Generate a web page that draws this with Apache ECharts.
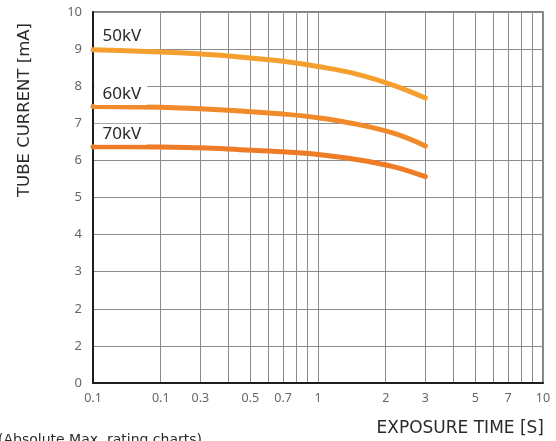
<!DOCTYPE html>
<html>
<head>
<meta charset="utf-8">
<script src="https://cdn.jsdelivr.net/npm/echarts@6/dist/echarts.min.js"></script>
<style>
  html, body { margin: 0; padding: 0; background: #ffffff; }
  #chart { width: 556px; height: 441px; }
</style>
</head>
<body>
<div id="chart"></div>
<script>
// Exposure time samples [s], roughly even steps on the log scale
const exposureTimes = [0.1, 0.15, 0.2, 0.3, 0.45, 0.7, 1, 1.5, 2.2, 3];

// Tube current limits [mA] for each tube voltage
const current50kV = [8.98, 8.95, 8.92, 8.87, 8.79, 8.67, 8.53, 8.32, 8.01, 7.68];
const current60kV = [7.45, 7.44, 7.43, 7.39, 7.33, 7.25, 7.15, 6.97, 6.72, 6.39];
const current70kV = [6.37, 6.37, 6.36, 6.34, 6.29, 6.23, 6.16, 6.02, 5.82, 5.56];

const seriesNames = ['50kV', '60kV', '70kV'];

// Log-axis grid positions and the labels printed under them
const xGridValues = [0.1, 0.2, 0.3, 0.4, 0.5, 0.6, 0.7, 0.8, 0.9, 1, 2, 3, 4, 5, 6, 7, 8, 9, 10];
const xTickValues = [0.1, 0.2, 0.3, 0.5, 0.7, 1, 2, 3, 5, 7, 10];
const xTickLabels = ['0.1', '0.1', '0.3', '0.5', '0.7', '1', '2', '3', '5', '7', '10'];
const yTickLabels = ['0', '2', '2', '3', '4', '5', '6', '7', '8', '9', '10'];

const TICK_FONT = "'Noto Sans', 'DejaVu Sans', sans-serif";
const lineColors = ['#f5a02e', '#f18a2a', '#ee7b25'];
const labelOffsets = [-13.5, -12, -12.5];

function xLabel(v) {
  for (let i = 0; i < xTickValues.length; i++) {
    if (Math.abs(Math.log10(v) - Math.log10(xTickValues[i])) < 0.01) return xTickLabels[i];
  }
  return '';
}

function makeSeries(name, values, idx) {
  return {
    name: name,
    type: 'line',
    smooth: 0.4,
    showSymbol: false,
    silent: true,
    data: exposureTimes.map((t, i) => [t, values[i]]),
    lineStyle: { color: lineColors[idx], width: 5, cap: 'round' },
    itemStyle: { color: lineColors[idx] },
    z: 3,
    markPoint: {
      silent: true,
      symbol: 'circle',
      symbolSize: 1,
      itemStyle: { color: 'rgba(0,0,0,0)' },
      data: [{
        coord: [exposureTimes[0], values[0]],
        label: {
          show: true,
          formatter: name,
          position: 'right',
          distance: 1,
          offset: [0, labelOffsets[idx]],
          color: '#2a2a2a',
          fontFamily: TICK_FONT,
          fontSize: 17,
          backgroundColor: '#ffffff',
          padding: [2, 6, 2, 8]
        }
      }]
    }
  };
}

const chart = echarts.init(document.getElementById('chart'), null, { renderer: 'canvas' });

chart.setOption({
  animation: false,
  backgroundColor: '#ffffff',
  grid: {
    left: 93, right: 13, top: 12, bottom: 58,
    show: true, borderColor: '#555555', borderWidth: 1.5, backgroundColor: 'transparent'
  },
  xAxis: {
    type: 'log',
    logBase: 10,
    min: 0.1,
    max: 10,
    axisLine: { show: true, onZero: false, lineStyle: { color: '#1e1e1e', width: 2 } },
    axisTick: { show: false, customValues: xGridValues },
    splitLine: { show: true, lineStyle: { color: '#8c8c8c', width: 1 } },
    axisLabel: {
      customValues: xTickValues,
      formatter: xLabel,
      color: '#666666',
      fontFamily: TICK_FONT,
      fontSize: 12.5,
      margin: 9,
      hideOverlap: false,
      showMinLabel: true,
      showMaxLabel: true
    }
  },
  yAxis: {
    type: 'value',
    min: 0,
    max: 10,
    interval: 1,
    axisLine: { show: true, lineStyle: { color: '#1e1e1e', width: 2 } },
    axisTick: { show: false },
    splitLine: { show: true, lineStyle: { color: '#8c8c8c', width: 1 } },
    axisLabel: {
      formatter: v => yTickLabels[Math.round(v)],
      color: '#666666',
      fontFamily: TICK_FONT,
      fontSize: 13,
      margin: 11
    }
  },
  graphic: [
    {
      type: 'text',
      x: 25, y: 110,
      rotation: Math.PI / 2,
      style: {
        text: 'TUBE CURRENT [mA]',
        fill: '#2a2a2a',
        font: "16.5px 'DejaVu Sans', sans-serif",
        textAlign: 'center',
        textVerticalAlign: 'middle'
      }
    },
    {
      type: 'text',
      x: 544, y: 429,
      style: {
        text: 'EXPOSURE TIME [S]',
        fill: '#2a2a2a',
        font: "17px 'DejaVu Sans', sans-serif",
        textAlign: 'right',
        textVerticalAlign: 'middle'
      }
    },
    {
      type: 'text',
      x: -2, y: 433,
      style: {
        text: '(Absolute Max. rating charts)',
        fill: '#2a2a2a',
        font: "14px 'DejaVu Sans', sans-serif",
        textAlign: 'left',
        textVerticalAlign: 'top'
      }
    }
  ],
  series: [
    makeSeries(seriesNames[0], current50kV, 0),
    makeSeries(seriesNames[1], current60kV, 1),
    makeSeries(seriesNames[2], current70kV, 2)
  ]
});
</script>
</body>
</html>
